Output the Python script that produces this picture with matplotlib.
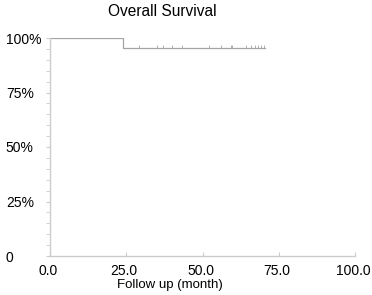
import numpy as np
import matplotlib.pyplot as plt
from matplotlib.transforms import ScaledTranslation

plt.rcParams['font.family'] = ['Liberation Sans', 'DejaVu Sans']

# Kaplan-Meier steps (months, survival)
step_times = [0.0, 24.0, 70.5]
step_surv = [1.0, 0.954, 0.954]
# censor marks
cens_top = [16.0, 21.0]
cens_low = [29.2, 35.0, 37.0, 40.0, 43.2, 52.0, 56.2, 59.2, 59.8, 64.4, 65.8,
            67.2, 68.2, 69.1, 70.2]

xticks = [0, 25, 50, 75, 100]
xlabels = ['0.0', '25.0', '50.0', '75.0', '100.0']
yticks = [0, 0.25, 0.5, 0.75, 1.0]
ylabels = ['0', '25%', '50%', '75%', '100%']

fig = plt.figure(figsize=(3.72, 2.95), dpi=100)
ax = fig.add_axes([50/372, 39/295, 305/372, 218/295])

line_c = '#a4a4a4'
ax.step(step_times, step_surv, where='post', color=line_c, lw=0.9)
ax.plot(cens_top, [1.0]*len(cens_top), ls='none', marker=2, color=line_c, ms=2.5, mew=0.6)
ax.plot(cens_low, [0.954]*len(cens_low), ls='none', marker=2, color=line_c, ms=2.5, mew=0.6)

ax.set_xlim(0, 100)
ax.set_ylim(0, 1)
for s in ['top', 'right']:
    ax.spines[s].set_visible(False)
for s in ['left', 'bottom']:
    ax.spines[s].set_color('#cccccc')
    ax.spines[s].set_linewidth(1)

ax.set_xticks(xticks)
ax.set_xticklabels(xlabels, fontsize=10)
ax.set_yticks(yticks)
ax.set_yticklabels(ylabels, fontsize=10, ha='left')
ax.set_yticks(np.arange(0, 1.0, 0.05), minor=True)
ax.tick_params(axis='x', direction='in', length=3, color='#cccccc', pad=5.5)
ax.tick_params(axis='y', which='both', direction='out', length=3, color='#cccccc', pad=28.8)
shift = ScaledTranslation(-2/100, 0, fig.dpi_scale_trans)
for lab in ax.get_xticklabels():
    lab.set_transform(lab.get_transform() + shift)

fig.text(170/372, 1 - 285/295, 'Follow up (month)', ha='center', va='center', fontsize=9.5)
fig.text(162/372, 1 - 11/295, 'Overall Survival', ha='center', va='center', fontsize=11.2)

fig.savefig('out.png', dpi=100)
